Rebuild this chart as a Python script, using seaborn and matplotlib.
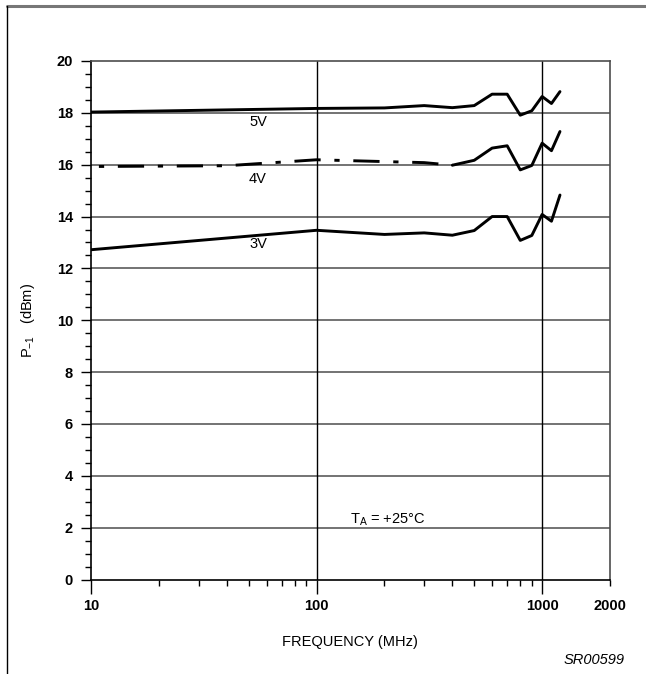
import matplotlib
matplotlib.use("Agg")
import matplotlib.pyplot as plt
import matplotlib.ticker as mticker
from matplotlib.lines import Line2D
import seaborn as sns
import pandas as pd

#%% data
freq_5v = [10, 100, 200, 300, 400, 500, 600, 700, 800, 900, 1000, 1100, 1200]
p1_5v = [18.03, 18.17, 18.19, 18.28, 18.2, 18.28, 18.72, 18.72, 17.91, 18.08, 18.63, 18.36, 18.82]

freq_4v = [10, 40, 100, 200, 300, 400, 500, 600, 700, 800, 900, 1000, 1100, 1200]
p1_4v = [15.93, 15.96, 16.19, 16.12, 16.08, 15.98, 16.17, 16.64, 16.73, 15.8, 15.97, 16.83, 16.54, 17.28]
n_dashed_4v = 6  # the 4V trace is dash-dot up to 400 MHz, solid above

freq_3v = [10, 100, 200, 300, 400, 500, 600, 700, 800, 900, 1000, 1100, 1200]
p1_3v = [12.72, 13.47, 13.31, 13.37, 13.28, 13.46, 14.0, 14.0, 13.08, 13.27, 14.08, 13.82, 14.83]

x_major = [10, 100, 1000, 2000]
x_major_labels = ["10", "100", "1000", "2000"]
x_minor = [20, 30, 40, 50, 60, 70, 80, 90, 200, 300, 400, 500, 600, 700, 800, 900]
y_major = list(range(0, 21, 2))

curve_labels = ["5V", "4V", "3V"]
label_pos = [(55, 17.65), (55, 15.43), (55, 12.96)]

#%%
sns.set_style("ticks")
plt.rcParams["font.family"] = ["Liberation Sans", "DejaVu Sans"]
plt.rcParams["mathtext.fontset"] = "custom"
plt.rcParams["mathtext.rm"] = "Liberation Sans"
plt.rcParams["mathtext.it"] = "Liberation Sans"
for key in ["text.color", "axes.labelcolor", "xtick.color", "ytick.color"]:
    plt.rcParams[key] = "black"

fig = plt.figure(figsize=(6.46, 6.74), dpi=100)
fig.patch.set_facecolor("white")
ax = fig.add_axes([0.1409, 0.1402, 0.8034, 0.7693])

df_5v = pd.DataFrame({"freq": freq_5v, "p1": p1_5v})
df_4v = pd.DataFrame({"freq": freq_4v, "p1": p1_4v})
df_3v = pd.DataFrame({"freq": freq_3v, "p1": p1_3v})

sns.lineplot(data=df_5v, x="freq", y="p1", color="black", linewidth=2.1, ax=ax)
sns.lineplot(data=df_4v.iloc[:n_dashed_4v], x="freq", y="p1", color="black", linewidth=2.1, ax=ax,
             linestyle=(11, (9, 4.7, 1.8, 4.7)), dash_capstyle="butt")
sns.lineplot(data=df_4v.iloc[n_dashed_4v - 1:], x="freq", y="p1", color="black", linewidth=2.1, ax=ax)
sns.lineplot(data=df_3v, x="freq", y="p1", color="black", linewidth=2.1, ax=ax)

ax.set_xscale("log")
ax.set_xlim(10, 2000)
ax.set_ylim(0, 20)

ax.xaxis.set_major_locator(mticker.FixedLocator(x_major))
ax.xaxis.set_major_formatter(mticker.FixedFormatter(x_major_labels))
ax.xaxis.set_minor_locator(mticker.FixedLocator(x_minor))
ax.xaxis.set_minor_formatter(mticker.NullFormatter())
ax.set_yticks(y_major)
ax.yaxis.set_minor_locator(mticker.MultipleLocator(0.5))

ax.tick_params(axis="both", which="major", direction="out", width=1.0,
               color="black", labelsize=10.5, labelcolor="black")
ax.tick_params(axis="x", which="major", length=10, pad=4)
ax.tick_params(axis="y", which="major", length=7, pad=6)
ax.tick_params(axis="both", which="minor", direction="out", length=4.5, width=1.0, color="black")
for lab in ax.get_xticklabels() + ax.get_yticklabels():
    lab.set_fontweight("bold")
# 2000 only gets a short tick
ax.xaxis.get_major_ticks()[-1].tick1line.set_markersize(4.5)

# grid: horizontal every 2 dBm, vertical only at the decades
for v in y_major[1:-1]:
    ax.axhline(v, color="#4d4d4d", linewidth=1.1, zorder=0.5)
for f in [100, 1000]:
    ax.axvline(f, color="black", linewidth=1.0, zorder=0.5)

for side in ["left", "bottom"]:
    ax.spines[side].set_color("black")
    ax.spines[side].set_linewidth(1.2)
for side in ["top", "right"]:
    ax.spines[side].set_visible(True)
    ax.spines[side].set_color("#4d4d4d")
    ax.spines[side].set_linewidth(1.2)

ax.set_xlabel("FREQUENCY (MHz)", fontsize=10.5)
ax.xaxis.set_label_coords(0.499, -0.107)
ax.set_ylabel("P$_{-1}$   (dBm)", fontsize=10.5)
ax.yaxis.set_label_coords(-0.104, 0.5)

for txt, (fx, fy) in zip(curve_labels, label_pos):
    ax.text(fx, fy, txt, fontsize=10.5, ha="center", va="center")

ax.text(206, 2.3, "T$_\\mathrm{A}$ = +25°C", fontsize=10.5, ha="center", va="center")
fig.text(0.967, 0.021, "SR00599", fontsize=10.5, style="italic", ha="right", va="center")

# page frame: top and left rules
fig.add_artist(Line2D([7 / 646, 1.0], [1 - 6 / 674, 1 - 6 / 674], color="#777777", linewidth=2.2))
fig.add_artist(Line2D([7 / 646, 7 / 646], [0.0, 1 - 6 / 674], color="black", linewidth=1.0))

fig.savefig("out.png", dpi=100, facecolor="white")
